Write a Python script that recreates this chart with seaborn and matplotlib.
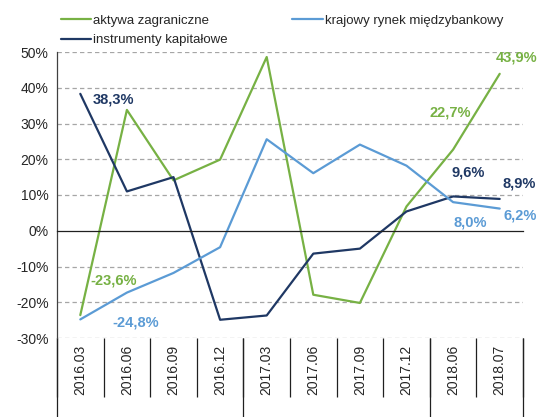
import pandas as pd
import seaborn as sns
import matplotlib.pyplot as plt

periods = ["2016.03", "2016.06", "2016.09", "2016.12", "2017.03",
           "2017.06", "2017.09", "2017.12", "2018.06", "2018.07"]
aktywa = [-23.6, 33.8, 14.1, 19.9, 48.6, -17.9, -20.2, 6.8, 22.7, 43.9]
krajowy = [-24.8, -17.3, -11.8, -4.6, 25.6, 16.1, 24.1, 18.2, 8.0, 6.2]
instrumenty = [38.3, 11.0, 15.0, -24.9, -23.7, -6.4, -5.0, 5.4, 9.6, 8.9]
series_names = ["aktywa zagraniczne", "instrumenty kapitałowe", "krajowy rynek międzybankowy"]
yticks = [-30, -20, -10, 0, 10, 20, 30, 40, 50]
ytick_labels = ["-30%", "-20%", "-10%", "0%", "10%", "20%", "30%", "40%", "50%"]
year_bounds = [-0.5, 3.5, 7.5, 9.5]

colors = {"aktywa zagraniczne": "#77B144",
          "instrumenty kapitałowe": "#1F3864",
          "krajowy rynek międzybankowy": "#5B9BD5"}

df = pd.DataFrame({"okres": periods,
                   "aktywa zagraniczne": aktywa,
                   "instrumenty kapitałowe": instrumenty,
                   "krajowy rynek międzybankowy": krajowy})
long = df.melt(id_vars="okres", var_name="seria", value_name="wartosc")

sns.set_style("white")
plt.rcParams["font.family"] = ["Liberation Sans", "DejaVu Sans"]

fig, ax = plt.subplots(figsize=(5.38, 4.17), dpi=100)
fig.subplots_adjust(left=57/538, right=523/538, bottom=1-338/417, top=1-52/417)

sns.lineplot(data=long, x="okres", y="wartosc", hue="seria", hue_order=series_names,
             palette=colors, linewidth=1.6, sort=False, ax=ax)

ax.set_xlim(-0.5, 9.5)
ax.set_ylim(-30, 50)
ax.set_xlabel("")
ax.set_ylabel("")

# grid
for v in yticks:
    if v != 0:
        ax.axhline(v, color="#A6A6A6", linewidth=0.9, linestyle=(0, (3.5, 2.5)), zorder=0)

# spines
for s in ["top", "right"]:
    ax.spines[s].set_visible(False)
ax.spines["left"].set_color("#404040")
ax.spines["left"].set_linewidth(0.9)
ax.spines["bottom"].set_position(("data", 0))
ax.spines["bottom"].set_color("#202020")
ax.spines["bottom"].set_linewidth(0.9)

ax.set_yticks(yticks)
ax.set_yticklabels(ytick_labels, fontsize=10)
ax.tick_params(axis="y", direction="out", length=3, width=0.9, color="#404040", pad=3)

bounds = [i - 0.5 for i in range(len(periods) + 1)]
ax.set_xticks(bounds)
ax.set_xticklabels([])
ax.tick_params(axis="x", direction="out", length=3, width=0.9, color="#202020")

# category labels with separators below the plot
sec = ax.secondary_xaxis(0)
sec.set_xticks(range(len(periods)))
sec.set_xticklabels(periods, rotation=90, fontsize=10)
sec.set_xticks(bounds, minor=True)
sec.tick_params(axis="x", which="major", length=0, pad=5)
sec.tick_params(axis="x", which="minor", length=42.5, width=0.9, color="#202020")
sec.spines["bottom"].set_visible(False)

sec2 = ax.secondary_xaxis(0)
sec2.set_xticks(year_bounds)
sec2.set_xticklabels([])
sec2.tick_params(axis="x", length=57, width=0.9, color="#202020")
sec2.spines["bottom"].set_visible(False)

# value labels
labels = [
    ("aktywa zagraniczne", 0, (33, 35)),
    ("aktywa zagraniczne", 8, (-3, 37)),
    ("aktywa zagraniczne", 9, (17, 16)),
    ("instrumenty kapitałowe", 0, (33, -6)),
    ("instrumenty kapitałowe", 8, (15, 24)),
    ("instrumenty kapitałowe", 9, (19, 15)),
    ("krajowy rynek międzybankowy", 0, (55, -3)),
    ("krajowy rynek międzybankowy", 8, (17, -20)),
    ("krajowy rynek międzybankowy", 9, (20, -7)),
]
for name, i, off in labels:
    v = df[name][i]
    ax.annotate(f"{v:.1f}%".replace(".", ","), (i, v), xytext=off,
                textcoords="offset pixels", ha="center", va="center",
                fontsize=10.5, fontweight="bold", color=colors[name],
                annotation_clip=False)

handles, lbls = ax.get_legend_handles_labels()
ax.legend(handles, lbls, ncol=2, loc="upper left", bbox_to_anchor=(54/538, 1 - 8/417),
          bbox_transform=fig.transFigure, frameon=False, fontsize=9.5,
          handlelength=2.3, handletextpad=0.15, columnspacing=4.9,
          labelspacing=0.55, borderpad=0)

fig.savefig("out.png", dpi=100)
